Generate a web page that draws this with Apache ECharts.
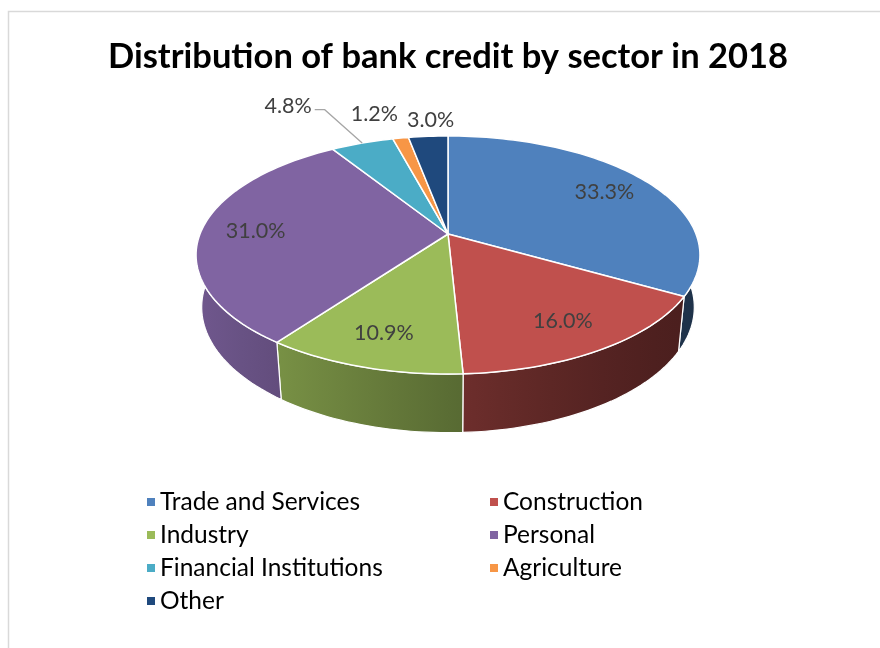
<!DOCTYPE html>
<html>
<head>
<meta charset="utf-8">
<script src="https://cdn.jsdelivr.net/npm/echarts@6/dist/echarts.min.js"></script>
<style>
  html, body { margin: 0; padding: 0; background: #ffffff; }
  #chart { width: 880px; height: 648px; }
</style>
</head>
<body>
<div id="chart"></div>
<script>
// Bank credit by sector, 2018 (percent of total)
const sectors = ['Trade and Services', 'Construction', 'Industry', 'Personal',
                 'Financial Institutions', 'Agriculture', 'Other'];
const shares = [33.3, 16.0, 10.9, 31.0, 4.8, 1.2, 3.0];
const sectorColors = ['#4f81bd', '#c0504d', '#9bbb59', '#8064a2', '#4bacc6', '#f79646', '#1f497d'];
const legendColumnA = ['Trade and Services', 'Industry', 'Financial Institutions', 'Other'];
const legendColumnB = ['Construction', 'Personal', 'Agriculture'];

const FONT = 'Lato, "Open Sans", sans-serif';

// Perspective view of a tilted disc: unit radius, screen scale in px
const view = { cx: 448, cy: 234, scale: 248, tilt: 0.465, persp: 0.1994, depth: 0.24 };
const tiltCos = Math.sqrt(1 - view.tilt * view.tilt);

function project(rho, theta, h) {
  const u = rho * Math.sin(theta);
  const v = rho * Math.cos(theta);
  const zt = 1 + view.persp * (v * tiltCos - h * view.tilt);
  return [view.cx + view.scale * u / zt,
          view.cy - view.scale * (v * view.tilt + h * tiltCos) / zt];
}

const total = shares.reduce((a, b) => a + b, 0);
const startAngles = [];
(function () {
  let acc = 0;
  shares.forEach(function (s) { startAngles.push(acc / total * Math.PI * 2); acc += s; });
})();
function endAngle(i) { return startAngles[i] + shares[i] / total * Math.PI * 2; }

function shade(hex, f) {
  const n = parseInt(hex.slice(1), 16);
  const r = Math.round(((n >> 16) & 255) * f);
  const g = Math.round(((n >> 8) & 255) * f);
  const b = Math.round((n & 255) * f);
  return 'rgb(' + r + ',' + g + ',' + b + ')';
}

// Side walls darken from left to right
const wallLeft = view.cx - view.scale * 1.04, wallRight = view.cx + view.scale * 1.04;
function wallFill(color) {
  const stops = [];
  for (let k = 0; k <= 10; k++) {
    const t = k / 10;
    stops.push({ offset: t, color: shade(color, 0.38 + 0.5 * Math.pow(1 - t, 1.3)) });
  }
  return new echarts.graphic.LinearGradient(wallLeft, 0, wallRight, 0, stops, true);
}

function arcPoints(a0, a1, rho, h) {
  const pts = [];
  const steps = Math.max(2, Math.ceil((a1 - a0) / (Math.PI / 120)));
  for (let k = 0; k <= steps; k++) pts.push(project(rho, a0 + (a1 - a0) * k / steps, h));
  return pts;
}

const measureCtx = document.createElement('canvas').getContext('2d');
function textWidth(text, size) {
  measureCtx.font = size + 'px ' + FONT;
  return measureCtx.measureText(text).width;
}

function pctText(i) { return shares[i].toFixed(1) + '%'; }

// Label placement: large slices inside, small ones above the rim, pushed left when crowded
const LABEL_SIZE = 21.5;
const insideMin = 6;
const labelPos = [];
(function () {
  let leftBound = Infinity;
  for (let i = shares.length - 1; i >= 0; i--) {
    const mid = (startAngles[i] + endAngle(i)) / 2;
    if (shares[i] >= insideMin) {
      const p = project(0.78, mid, 0);
      labelPos[i] = { x: p[0], y: p[1] };
      continue;
    }
    const w = textWidth(pctText(i), LABEL_SIZE);
    const p = project(1.2, mid, 0);
    const x0 = p[0] + w * 0.12;
    let shift = Math.max(0, x0 + w / 2 - (leftBound - 9));
    const leader = shift > 26;
    if (leader) shift += 30;
    const x = x0 - shift, y = p[1] - shift * 0.34;
    leftBound = x - w / 2;
    labelPos[i] = { x: x, y: y, w: w, leader: leader, edge: project(1, mid, 0) };
  }
})();

function renderSlice(params, api) {
  const i = params.dataIndex;
  const a0 = startAngles[i], a1 = endAngle(i);
  const color = sectorColors[i];
  const children = [];

  const topArc = arcPoints(a0, a1, 1, 0);
  const bottomArc = arcPoints(a0, a1, 1, -view.depth);
  children.push({
    type: 'polygon', z2: 1,
    shape: { points: topArc.concat(bottomArc.slice().reverse()) },
    style: { fill: wallFill(color), stroke: '#ffffff', lineWidth: 1.2, lineJoin: 'round' }
  });
  children.push({
    type: 'polygon', z2: 10,
    shape: { points: [project(0, 0, 0)].concat(topArc) },
    style: { fill: color, stroke: '#ffffff', lineWidth: 1.5, lineJoin: 'round' }
  });

  const lp = labelPos[i];
  if (lp.leader) {
    const lx = lp.x + lp.w / 2 + 3, ly = lp.y + 4;
    children.push({
      type: 'polyline', z2: 20,
      shape: { points: [[lx, ly], [lx + 10, ly], [lp.edge[0], lp.edge[1]]] },
      style: { fill: null, stroke: '#a6a6a6', lineWidth: 1.3 }
    });
  }
  children.push({
    type: 'text', z2: 30,
    style: {
      text: pctText(i), x: lp.x, y: lp.y,
      fill: '#404040', fontSize: LABEL_SIZE, fontFamily: FONT,
      align: 'center', verticalAlign: 'middle'
    }
  });
  return { type: 'group', children: children };
}

const legendBase = {
  orient: 'vertical',
  icon: 'rect',
  itemWidth: 8,
  itemHeight: 8,
  itemGap: 7,
  selectedMode: false,
  textStyle: { fontFamily: FONT, fontSize: 24.5, color: '#000000', lineHeight: 26 }
};

const chart = echarts.init(document.getElementById('chart'), null, { renderer: 'canvas' });
chart.setOption({
  animation: false,
  color: sectorColors,
  title: {
    text: 'Distribution of bank credit by sector in 2018',
    left: 103,
    top: 34,
    textStyle: { fontFamily: FONT, fontWeight: 'bold', fontSize: 34.5, color: '#000000' }
  },
  graphic: [{
    type: 'rect', silent: true, z: -1,
    shape: { x: 8.5, y: 11.5, width: 900, height: 700 },
    style: { fill: null, stroke: '#d9d9d9', lineWidth: 1.5 }
  }],
  legend: [
    Object.assign({}, legendBase, { data: legendColumnA, left: 142, top: 484 }),
    Object.assign({}, legendBase, { data: legendColumnB, left: 485, top: 484 })
  ],
  series: [
    {
      // Supplies the legend entries; the disc itself is drawn by the custom series
      type: 'pie',
      silent: true,
      center: [-400, -400],
      radius: [0, 1],
      label: { show: false },
      data: sectors.map(function (name, i) { return { name: name, value: shares[i] }; })
    },
    {
      type: 'custom',
      coordinateSystem: 'none',
      silent: true,
      renderItem: renderSlice,
      data: shares.map(function (s) { return [s]; })
    }
  ]
});
</script>
</body>
</html>
